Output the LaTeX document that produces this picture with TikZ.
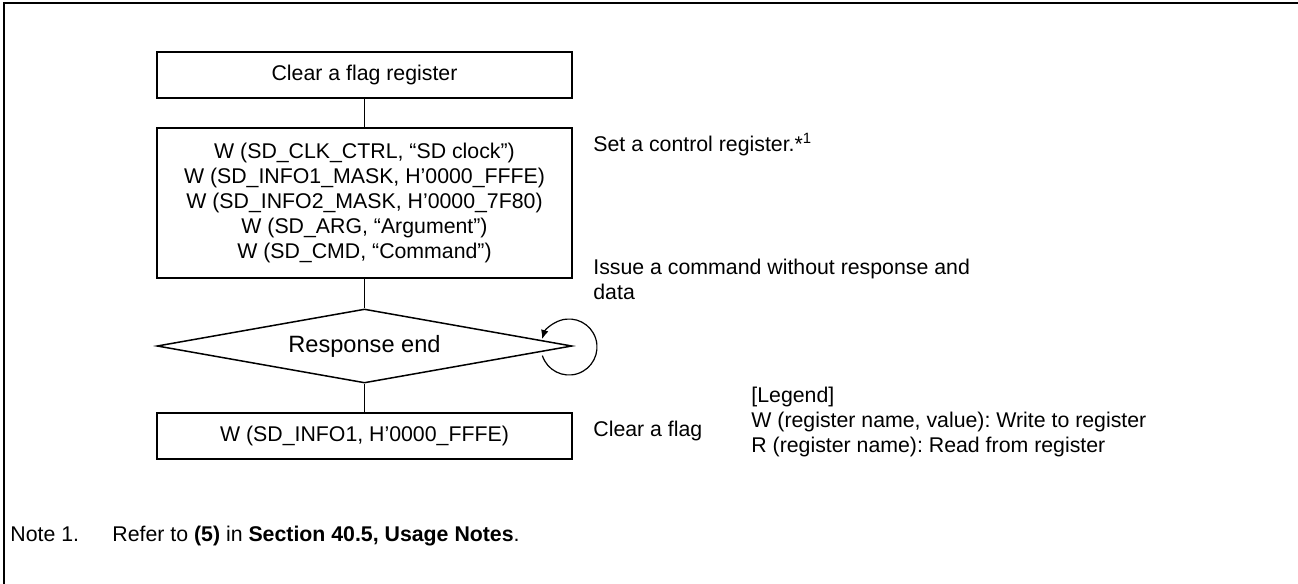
\documentclass[tikz,border=0pt]{standalone}
\usepackage{fontspec}
\setmainfont{Liberation Sans}
\usetikzlibrary{shapes.geometric,arrows.meta}
\begin{document}
\frenchspacing
\begin{tikzpicture}[x=0.5pt,y=-0.5pt,
  font=\fontsize{10.65pt}{12.6pt}\selectfont,
  box/.style={draw, line width=0.75pt, minimum width=207.5pt, inner sep=0pt, align=center},
  decision/.style={diamond, draw, line width=0.75pt, minimum width=207.5pt, minimum height=37pt, aspect=5.6, inner sep=0pt, font=\fontsize{11.8pt}{14pt}\selectfont},
  flow/.style={line width=0.6pt},
  note/.style={anchor=base west, inner sep=0pt},
  frame/.style={line width=1.2pt}]
\useasboundingbox (0,0) rectangle (1298,584);
\draw[frame] (4,584) -- (4,3) -- (1298,3);

\node[box, minimum height=23pt] (clr) at (364.5,75) {Clear a flag register};
\node[box, minimum height=75pt] (set) at (364.5,203) {W (SD\_CLK\_CTRL, “SD clock”)\\
W (SD\_INFO1\_MASK, H’0000\_FFFE)\\
W (SD\_INFO2\_MASK, H’0000\_7F80)\\
W (SD\_ARG, “Argument”)\\
W (SD\_CMD, “Command”)};
\node[decision] (resp) at (364.5,346) {Response end};
\node[box, minimum height=23pt] (info) at (364.5,436) {W (SD\_INFO1, H’0000\_FFFE)};

\draw[flow] (clr.south) -- (set.north);
\draw[flow] (set.south) -- (resp.north);
\draw[flow] (resp.south) -- (info.north);

\coordinate (loopc) at (569,347);
\draw[flow, -{Latex[length=4.5pt,width=3.8pt]}] ([shift={(197.8:14pt)}]loopc) arc[start angle=197.8, end angle=523.5, radius=14pt];

\node[note] (c1) at (593,151) {Set a control register.*\textsuperscript{1}};
\node[note] (c2) at (593,274) {Issue a command without response and};
\node[note] (c2b) at (593,299) {data};
\node[note] (c3) at (593,436) {Clear a flag};

\node[note] (lg) at (751,402) {[Legend]};
\node[note] (lw) at (751,427) {W (register name, value): Write to register};
\node[note] (lr) at (751,452) {R (register name): Read from register};

\node[note] (nt) at (10,541) {Note 1.};
\node[note] (ntx) at (112,541) {Refer to \textbf{(5)} in \textbf{Section 40.5, Usage Notes}.};
\end{tikzpicture}
\end{document}
